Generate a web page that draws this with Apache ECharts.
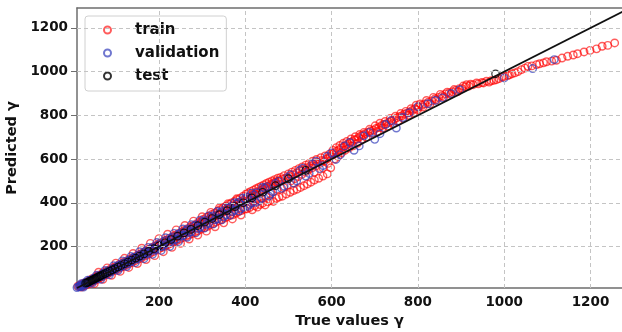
<!DOCTYPE html>
<html>
<head>
<meta charset="utf-8">
<script src="https://cdn.jsdelivr.net/npm/echarts@6/dist/echarts.min.js"></script>
<style>html,body{margin:0;padding:0;background:#fff;}#c{width:622px;height:332px;}</style>
</head>
<body>
<div id="c"></div>
<script>
const xTicks = [200, 400, 600, 800, 1000, 1200];
const yTicks = [200, 400, 600, 800, 1000, 1200];
const identityLine = [[10, 10], [1300, 1300]];

const train = [
[12,18],[15,9],[18,24],[20,14],[23,30],[25,19],[28,22],[30,35],[32,26],[35,28],[38,44],[40,31],[43,37],[45,52],[48,40],[50,45],[53,60],[55,48],[58,52],[60,68],[63,57],[66,60],[68,76],[71,64],[74,70],[77,85],[80,72],[84,79],[88,97],[92,86],[96,104],[99,92],
[102,110],[105,96],[108,118],[111,104],[114,121],[117,108],[120,130],[124,115],[127,136],[130,121],[134,143],[137,127],[141,150],[144,134],[148,158],[151,141],[155,164],[158,146],[162,172],[165,155],[169,180],[172,160],[176,186],[179,168],[183,194],[186,175],[190,201],[193,182],[197,208],[200,189],
[203,216],[206,195],[210,222],[213,201],[217,230],[220,207],[224,238],[227,214],[231,244],[234,220],[238,252],[241,227],[245,260],[248,233],[252,266],[255,240],[259,274],[262,246],[266,281],[269,252],[273,290],[276,258],[280,296],[283,265],[287,304],[290,272],[294,312],[297,278],[300,318],[299,284],
[303,325],[306,286],[310,333],[313,292],[316,338],[319,300],[322,346],[326,305],[329,352],[332,312],[336,362],[339,318],[342,368],[345,322],[349,378],[352,330],[355,384],[358,335],[362,392],[365,342],[368,399],[371,345],[375,406],[378,352],[381,414],[384,358],[388,421],[391,364],[395,430],[398,370],
[402,440],[404,372],[407,446],[410,378],[413,452],[416,368],[419,458],[422,386],[425,464],[428,380],[431,470],[434,392],[437,476],[440,398],[443,482],[446,390],[449,488],[452,404],[455,494],[458,410],[462,500],[465,406],[468,506],[472,420],[475,512],[478,426],[482,516],[486,430],[490,524],[495,440],
[500,532],[504,448],[508,540],[512,456],[516,548],[520,462],[524,556],[528,470],[532,564],[536,478],[540,572],[544,486],[548,580],[552,494],[556,590],[560,504],[565,598],[570,512],[575,606],[580,522],[585,614],[590,532],[595,622],[598,560],[592,580],
[603,640],[607,600],[611,652],[615,612],[619,662],[623,628],[627,672],[631,640],[635,680],[640,650],[645,692],[650,660],[655,702],[660,672],[665,712],[670,690],[675,722],[680,700],[688,736],[695,718],
[701,752],[706,726],[712,764],[718,742],[724,772],[730,750],[736,786],[742,762],[748,796],[754,774],[760,808],[766,786],[772,818],[778,800],[784,830],[790,812],[796,846],[799,826],
[805,852],[812,838],[820,868],[828,852],[836,882],[843,870],[852,896],[860,884],[868,906],[876,896],[884,918],[892,908],
[905,934],[913,940],[922,942],[936,948],[948,950],[959,956],[970,958],[982,963],[995,975],
[1012,985],[1025,994],[1040,1009],[1055,1024],[1075,1032],[1091,1040],[1098,1045],[1121,1052],[1147,1070],[1170,1082],[1199,1097],[1227,1116],[1256,1131],
[11,8],[16,20],[21,17],[27,31],[33,30],[37,33],[41,47],[47,43],[52,50],[57,63],[62,58],[67,70],[72,80],[78,76],[83,90],[90,88],[95,99],
[103,104],[109,112],[115,114],[121,125],[126,124],[132,138],[138,136],[143,148],[149,146],[154,160],[160,158],[166,174],[171,168],[177,180],[182,189],[188,186],[194,200],[199,204],
[205,210],[211,214],[216,224],[222,226],[229,236],[233,234],[240,246],[246,250],[251,258],[257,262],[263,270],[268,272],[274,282],[279,285],[285,296],[291,300],[296,304],
[304,312],[309,318],[315,322],[320,330],[325,334],[331,340],[337,346],[341,352],[347,356],[353,362],[357,372],[363,374],[367,382],[373,388],[379,392],[383,398],[389,404],[394,410],[399,412],
[403,416],[406,426],[411,420],[415,432],[418,440],[423,438],[427,450],[432,446],[436,456],[441,462],[445,470],[450,468],[454,476],[459,484],[463,484],[467,492],[471,496],[476,498],[480,502],[485,508],[489,470],[493,512],[497,480],[418,408],[426,414],[436,422],[448,430],[460,452],[474,462],
[502,520],[506,500],[510,528],[515,510],[519,536],[523,520],[527,546],[531,530],[535,552],[539,540],[543,560],[547,552],[551,568],[555,560],[559,576],[563,568],[568,584],[573,580],[578,594],[583,590],[588,600],[593,604],[597,612],[560,540],[580,560],
[602,620],[606,628],[612,636],[617,642],[622,650],[628,656],[633,662],[638,668],[643,676],[648,680],[653,688],[658,690],[663,698],[668,706],[673,710],[678,716],[684,722],[690,728],[697,732],
[703,740],[709,744],[715,752],[721,758],[727,762],[733,768],[739,774],[745,782],[751,788],[757,794],[763,798],[769,806],[775,810],[781,816],[787,822],[793,830],
[802,838],[809,846],[816,852],[824,860],[832,866],[840,876],[848,882],[856,890],[864,898],[872,902],[880,908],[888,914],[896,922],
[902,922],[910,930],[918,934],[928,940],[940,944],[952,948],[965,952],[976,960],[988,968],[1000,978],
[1008,982],[1018,990],[1032,1000],[1048,1016],[1064,1026],[1082,1036],[1110,1048],[1134,1062],[1160,1076],[1185,1090],[1214,1104],[1240,1120],
[50,30],[60,82],[70,50],[80,102],[90,68],[100,124],[110,86],[120,146],[130,104],[140,168],[150,122],[160,192],[170,140],[180,214],[190,158],[200,236],[210,176],[220,256],
[230,196],[240,276],[250,214],[260,296],[270,234],[280,316],[290,252],[300,336],[310,270],[320,356],[330,290],[340,376],[350,308],[360,396],[370,326],[380,418],[390,344]
];

const validation = [
[10,12],[14,16],[18,15],[22,25],[26,24],[30,30],[34,38],[38,35],[42,46],[46,44],[50,55],[55,52],[60,64],[65,62],[70,75],[75,72],[80,84],[86,82],[92,96],[98,95],
[104,110],[110,106],[116,122],[122,118],[128,134],[134,130],[140,147],[146,142],[152,158],[158,154],[165,172],[172,166],[180,188],[188,182],[196,204],[204,198],
[212,222],[220,214],[228,238],[236,230],[245,255],[254,248],[262,272],[270,264],[280,292],[290,282],[300,312],[310,300],[320,334],[330,322],[340,352],[350,336],
[360,376],[370,360],[380,394],[390,372],[400,418],[410,392],[420,436],[432,410],[445,466],[458,440],[470,488],[484,466],[498,516],[512,490],[526,548],[540,522],
[556,578],[572,556],[590,612],[610,598],[630,660],[652,640],[675,706],[700,690],[725,758],[750,742],[780,812],[823,853],[857,880],[897,917],[1000,971],[1066,1014],[1116,1055],
[12,9],[16,20],[20,22],[24,20],[28,34],[32,30],[36,33],[40,44],[44,40],[48,53],[53,49],[58,60],[63,66],[68,65],[73,78],[78,76],[83,88],[89,86],[95,100],[101,98],
[107,114],[113,110],[119,126],[125,121],[131,138],[137,133],[143,150],[149,145],[156,164],[162,158],[169,178],[176,171],[184,194],[192,186],[200,210],[208,202],
[216,228],[224,218],[232,244],[241,234],[250,262],[258,252],[266,278],[275,268],[285,298],[295,288],[305,318],[315,306],[325,340],[335,326],[345,360],[355,345],
[365,382],[375,366],[385,402],[395,380],[405,426],[415,400],[426,446],[438,420],[450,474],[464,450],[477,498],[490,476],[505,528],[519,500],[533,558],[548,534],
[564,590],[580,570],[600,628],[620,620],[642,676],[664,660],[688,722],[712,716],[738,776],[765,790],[800,840],[840,868],[877,900],
[20,30],[25,14],[35,46],[45,32],[55,68],[65,50],[75,90],[85,70],[95,112],[105,90],[115,134],[125,108],[135,154],[145,126],[155,176],[165,144],[175,196],[185,164],
[195,218],[205,182],[215,240],[225,200],[235,260],[245,222],[255,280],[265,242],[275,300],[285,262],[295,320],[305,284],[315,340],[325,302],[335,360],[345,322],
[355,380],[365,344],[375,400],[385,362],[395,422],[405,384],[415,444],[425,402],[440,470],[455,430]
];

const test = [
[30,32],[33,34],[36,37],[39,40],[42,43],[45,46],[48,49],[51,52],[54,55],[57,58],[60,61],[63,64],[66,67],[70,71],[75,76],[80,81],[86,87],[92,93],[98,99],
[105,106],[112,113],[120,121],[128,129],[137,138],[146,147],[155,156],[165,166],[176,178],[188,190],[200,203],[214,217],[228,232],[243,247],[258,262],
[274,278],[290,295],[306,311],[323,328],[340,346],[358,364],[376,382],[395,400],[415,422],[440,448],[470,478],[500,510],[540,548],[980,990]
];

const FONT = 'DejaVu Sans';
const spine = {show: true, lineStyle: {color: '#6e6e6e', width: 1.5}};
const gridLineStyle = {color: '#c4c4c4', width: 1, type: [4, 3]};
const plain = v => String(v);

const chart = echarts.init(document.getElementById('c'), null, {renderer: 'canvas'});
chart.setOption({
  animation: false,
  backgroundColor: '#fff',
  grid: {left: 77, right: 0, top: 8, bottom: 44, outerBoundsMode: 'none', containLabel: false},
  legend: {
    left: 85, top: 16, orient: 'vertical',
    padding: [6, 7, 7, 18],
    itemGap: 7, itemWidth: 7, itemHeight: 7,
    backgroundColor: 'rgba(255,255,255,0.85)',
    borderColor: '#d0d0d0', borderWidth: 1, borderRadius: 3,
    textStyle: {fontFamily: FONT, fontWeight: 'bold', fontSize: 15, color: '#111', lineHeight: 16, padding: [0, 0, 0, 19]},
    data: ['train', 'validation', 'test']
  },
  xAxis: [{
    type: 'value', min: 10, max: 1273,
    name: 'True values γ', nameLocation: 'middle', nameGap: 26,
    nameTextStyle: {fontFamily: FONT, fontWeight: 'bold', fontSize: 14.5, color: '#111'},
    axisLine: spine, axisTick: {show: false, customValues: xTicks},
    axisLabel: {customValues: xTicks, formatter: plain, fontFamily: FONT, fontWeight: 'bold', fontSize: 13.5, color: '#111', margin: 7},
    splitLine: {show: false}
  }, {
    type: 'value', position: 'top', min: 10, max: 1273,
    axisLine: spine, axisTick: {show: false}, axisLabel: {show: false}, splitLine: {show: false}
  }],
  yAxis: {
    type: 'value', min: 10, max: 1291,
    name: 'Predicted γ', nameLocation: 'middle', nameGap: 50,
    nameTextStyle: {fontFamily: FONT, fontWeight: 'bold', fontSize: 14.5, color: '#111'},
    axisLine: spine,
    axisTick: {show: true, customValues: yTicks, length: 6, lineStyle: {color: '#6e6e6e', width: 1}},
    axisLabel: {customValues: yTicks, formatter: plain, fontFamily: FONT, fontWeight: 'bold', fontSize: 13.5, color: '#111', margin: 9},
    splitLine: {show: false}
  },
  series: [
    {
      type: 'scatter', name: 'gridlines', data: [], silent: true, z: 1,
      markLine: {
        silent: true, symbol: 'none', animation: false,
        label: {show: false},
        lineStyle: gridLineStyle,
        emphasis: {disabled: true},
        data: xTicks.map(v => ({xAxis: v})).concat(yTicks.map(v => ({yAxis: v})))
      }
    },
    {
      type: 'scatter', name: 'train', data: train, symbol: 'circle', symbolSize: 7.5, z: 2,
      itemStyle: {color: 'rgba(255,255,255,0)', borderColor: 'rgba(255,0,0,0.8)', borderWidth: 1.4}
    },
    {
      type: 'scatter', name: 'validation', data: validation, symbol: 'circle', symbolSize: 7.5, z: 3,
      itemStyle: {color: 'rgba(255,255,255,0)', borderColor: 'rgba(45,55,185,0.85)', borderWidth: 1.4}
    },
    {
      type: 'scatter', name: 'test', data: test, symbol: 'circle', symbolSize: 7.5, z: 4,
      itemStyle: {color: 'rgba(255,255,255,0)', borderColor: '#000', borderWidth: 1.2}
    },
    {
      type: 'line', name: 'identity', data: identityLine, symbol: 'none', z: 5, silent: true,
      lineStyle: {color: '#111', width: 1.8}
    }
  ]
});
</script>
</body>
</html>
